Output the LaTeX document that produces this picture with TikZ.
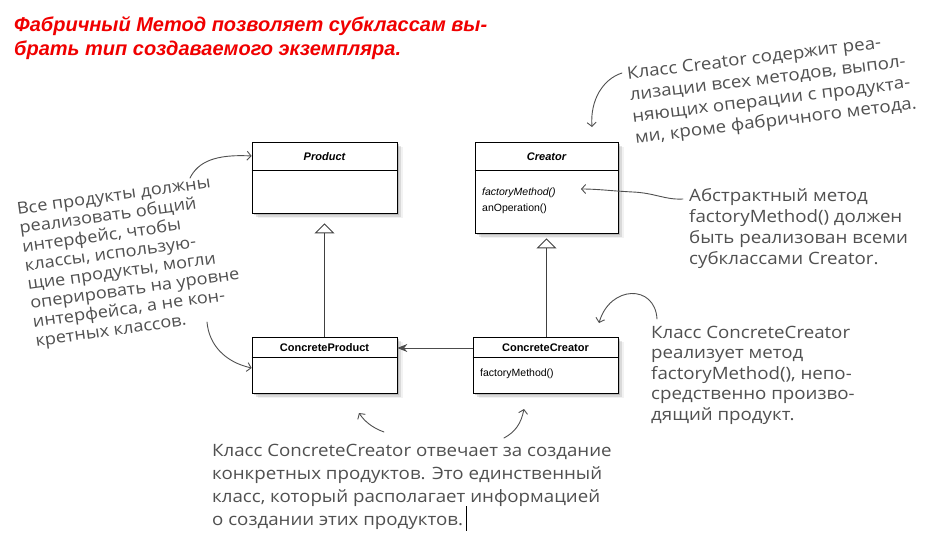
\documentclass[tikz,border=0pt]{standalone}
\usepackage{fontspec}
\setmainfont{Liberation Sans}
\newfontfamily\handfont{Open Sans}[FakeStretch=1.1]
\usetikzlibrary{arrows.meta,shadows}
\definecolor{ink}{HTML}{505050}
\definecolor{titlered}{HTML}{F00000}
\begin{document}
\begin{tikzpicture}[x=1pt,y=-1pt,
  cls/.style={draw=black, line width=0.7pt, fill=white, inner sep=0pt,
    drop shadow={shadow xshift=2pt,shadow yshift=-2pt,opacity=0.35},
    drop shadow={shadow xshift=4pt,shadow yshift=-4pt,opacity=0.2},
    drop shadow={shadow xshift=6pt,shadow yshift=-5pt,opacity=0.1}},
  clsname/.style={font=\fontsize{11}{13}\selectfont\bfseries, inner sep=0pt},
  absname/.style={font=\fontsize{11}{13}\selectfont\bfseries\itshape, inner sep=0pt},
  op/.style={font=\fontsize{10.5}{13}\selectfont, anchor=west, inner sep=0pt},
  note/.style={font=\handfont\fontsize{17}{21}\selectfont, text=ink, align=left, inner sep=0pt},
  hw/.style={draw=ink, line width=0.9pt, line cap=round, -{Straight Barb[length=4pt,width=9pt]}},
  gen/.style={draw=black!75, line width=0.9pt, -{Triangle[open,length=10pt,width=20pt,fill=white,line width=0.9pt]}},
  assoc/.style={draw=black!70, line width=1pt, -{Stealth[length=10pt,width=8pt]}},
  titletext/.style={font=\fontsize{20}{24}\selectfont\bfseries\itshape, text=titlered, align=left, inner sep=0pt}
]
\useasboundingbox (0,0) rectangle (938,539);
\fill[white] (0,0) rectangle (938,539);

% class boxes
\node[cls, minimum width=145pt, minimum height=71pt] (product) at (324.5,177.5) {};
\node[cls, minimum width=143pt, minimum height=91pt] (creator) at (546.5,187.5) {};
\node[cls, minimum width=145pt, minimum height=56pt] (cproduct) at (324.5,365) {};
\node[cls, minimum width=145pt, minimum height=56pt] (ccreator) at (545.5,365) {};

\draw[line width=0.7pt] ([yshift=-29pt]product.north west) -- ([yshift=-29pt]product.north east);
\draw[line width=0.7pt] ([yshift=-29pt]creator.north west) -- ([yshift=-29pt]creator.north east);
\draw[line width=0.7pt] ([yshift=-21pt]cproduct.north west) -- ([yshift=-21pt]cproduct.north east);
\draw[line width=0.7pt] ([yshift=-21pt]ccreator.north west) -- ([yshift=-21pt]ccreator.north east);

\node[absname] (productname) at (324.5,157) {Product};
\node[absname] (creatorname) at (546.5,157) {Creator};
\node[clsname] (cproductname) at (324.5,348) {ConcreteProduct};
\node[clsname] (ccreatorname) at (545.5,348) {ConcreteCreator};

\node[op, font=\fontsize{10.5}{13}\selectfont\itshape] (fm) at (482,193) {factoryMethod()};
\node[op] (anop) at (482,209) {anOperation()};
\node[op] (ccfm) at (480,374) {factoryMethod()};

% relations
\draw[gen, shorten >=10pt] (cproduct.north) -- (product.south);
\draw[gen, shorten >=5pt] (ccreator.north -| creator.south) -- (creator.south);
\draw[assoc] (ccreator.west |- ccreatorname) -- (cproduct.east |- ccreatorname);

% title
\node[titletext, anchor=west] (title) at (14,38) {Фабричный Метод позволяет субклассам вы-\\брать тип создаваемого экземпляра.};

% notes
\node[note, rotate=7, font=\handfont\fontsize{17}{21.5}\selectfont] (noteCreator) at (772,90) {Класс Creator содержит реа-\\лизации всех методов, выпол-\\няющих операции с продукта-\\ми, кроме фабричного метода.};
\node[note, anchor=west] (noteAbstract) at (689,229) {Абстрактный метод\\factoryMethod() должен\\быть реализован всеми\\субклассами Creator.};
\node[note, anchor=west, font=\handfont\fontsize{17}{20.5}\selectfont] (noteConcrete) at (651,375) {Класс ConcreteCreator\\реализует метод\\factoryMethod(), непо-\\средственно произво-\\дящий продукт.};
\node[note, anchor=west, font=\handfont\fontsize{17}{23}\selectfont] (noteBottom) at (212,487) {Класс ConcreteCreator отвечает за создание\\конкретных продуктов. Это единственный\\класс, который располагает информацией\\о создании этих продуктов.};
\node[note, rotate=8, font=\handfont\fontsize{16.5}{19}\selectfont] (noteProducts) at (131,262) {Все продукты должны\\реализовать общий\\интерфейс, чтобы\\классы, использую-\\щие продукты, могли\\оперировать на уровне\\интерфейса, а не кон-\\кретных классов.};

% hand-drawn arrows
\coordinate (a1s) at (190,178);
\draw[hw] (a1s) .. controls (198,162) and (215,154) .. ([yshift=21.5pt]product.west);
\coordinate (a2s) at (207,322);
\draw[hw] (a2s) .. controls (209,345) and (225,362) .. ([yshift=-3pt]cproduct.west);
\coordinate (a3s) at (622,73); \coordinate (a3e) at (592,127);
\draw[hw] (a3s) .. controls (603,79) and (590,100) .. (a3e);
\coordinate (a4s) at (683,199); \coordinate (a4e) at (581,189);
\draw[hw] (a4s) .. controls (665,200) and (655,193) .. (633,192) .. controls (612,191) and (598,189) .. (a4e);
\coordinate (a5s) at (657,319); \coordinate (a5e) at (599,323);
\draw[hw] (a5s) .. controls (655,284) and (610,285) .. (a5e);
\coordinate (a6s) at (384,432); \coordinate (a6e) at (359,413);
\draw[hw] (a6s) .. controls (373,428) and (365,422) .. (a6e);
\coordinate (a7s) at (504,438); \coordinate (a7e) at (524,409);
\draw[hw] (a7s) .. controls (515,432) and (521,424) .. (a7e);

% text cursor
\coordinate (cur1) at (466,506); \coordinate (cur2) at (466,531);
\draw[line width=0.8pt] (cur1) -- (cur2);
\end{tikzpicture}
\end{document}
